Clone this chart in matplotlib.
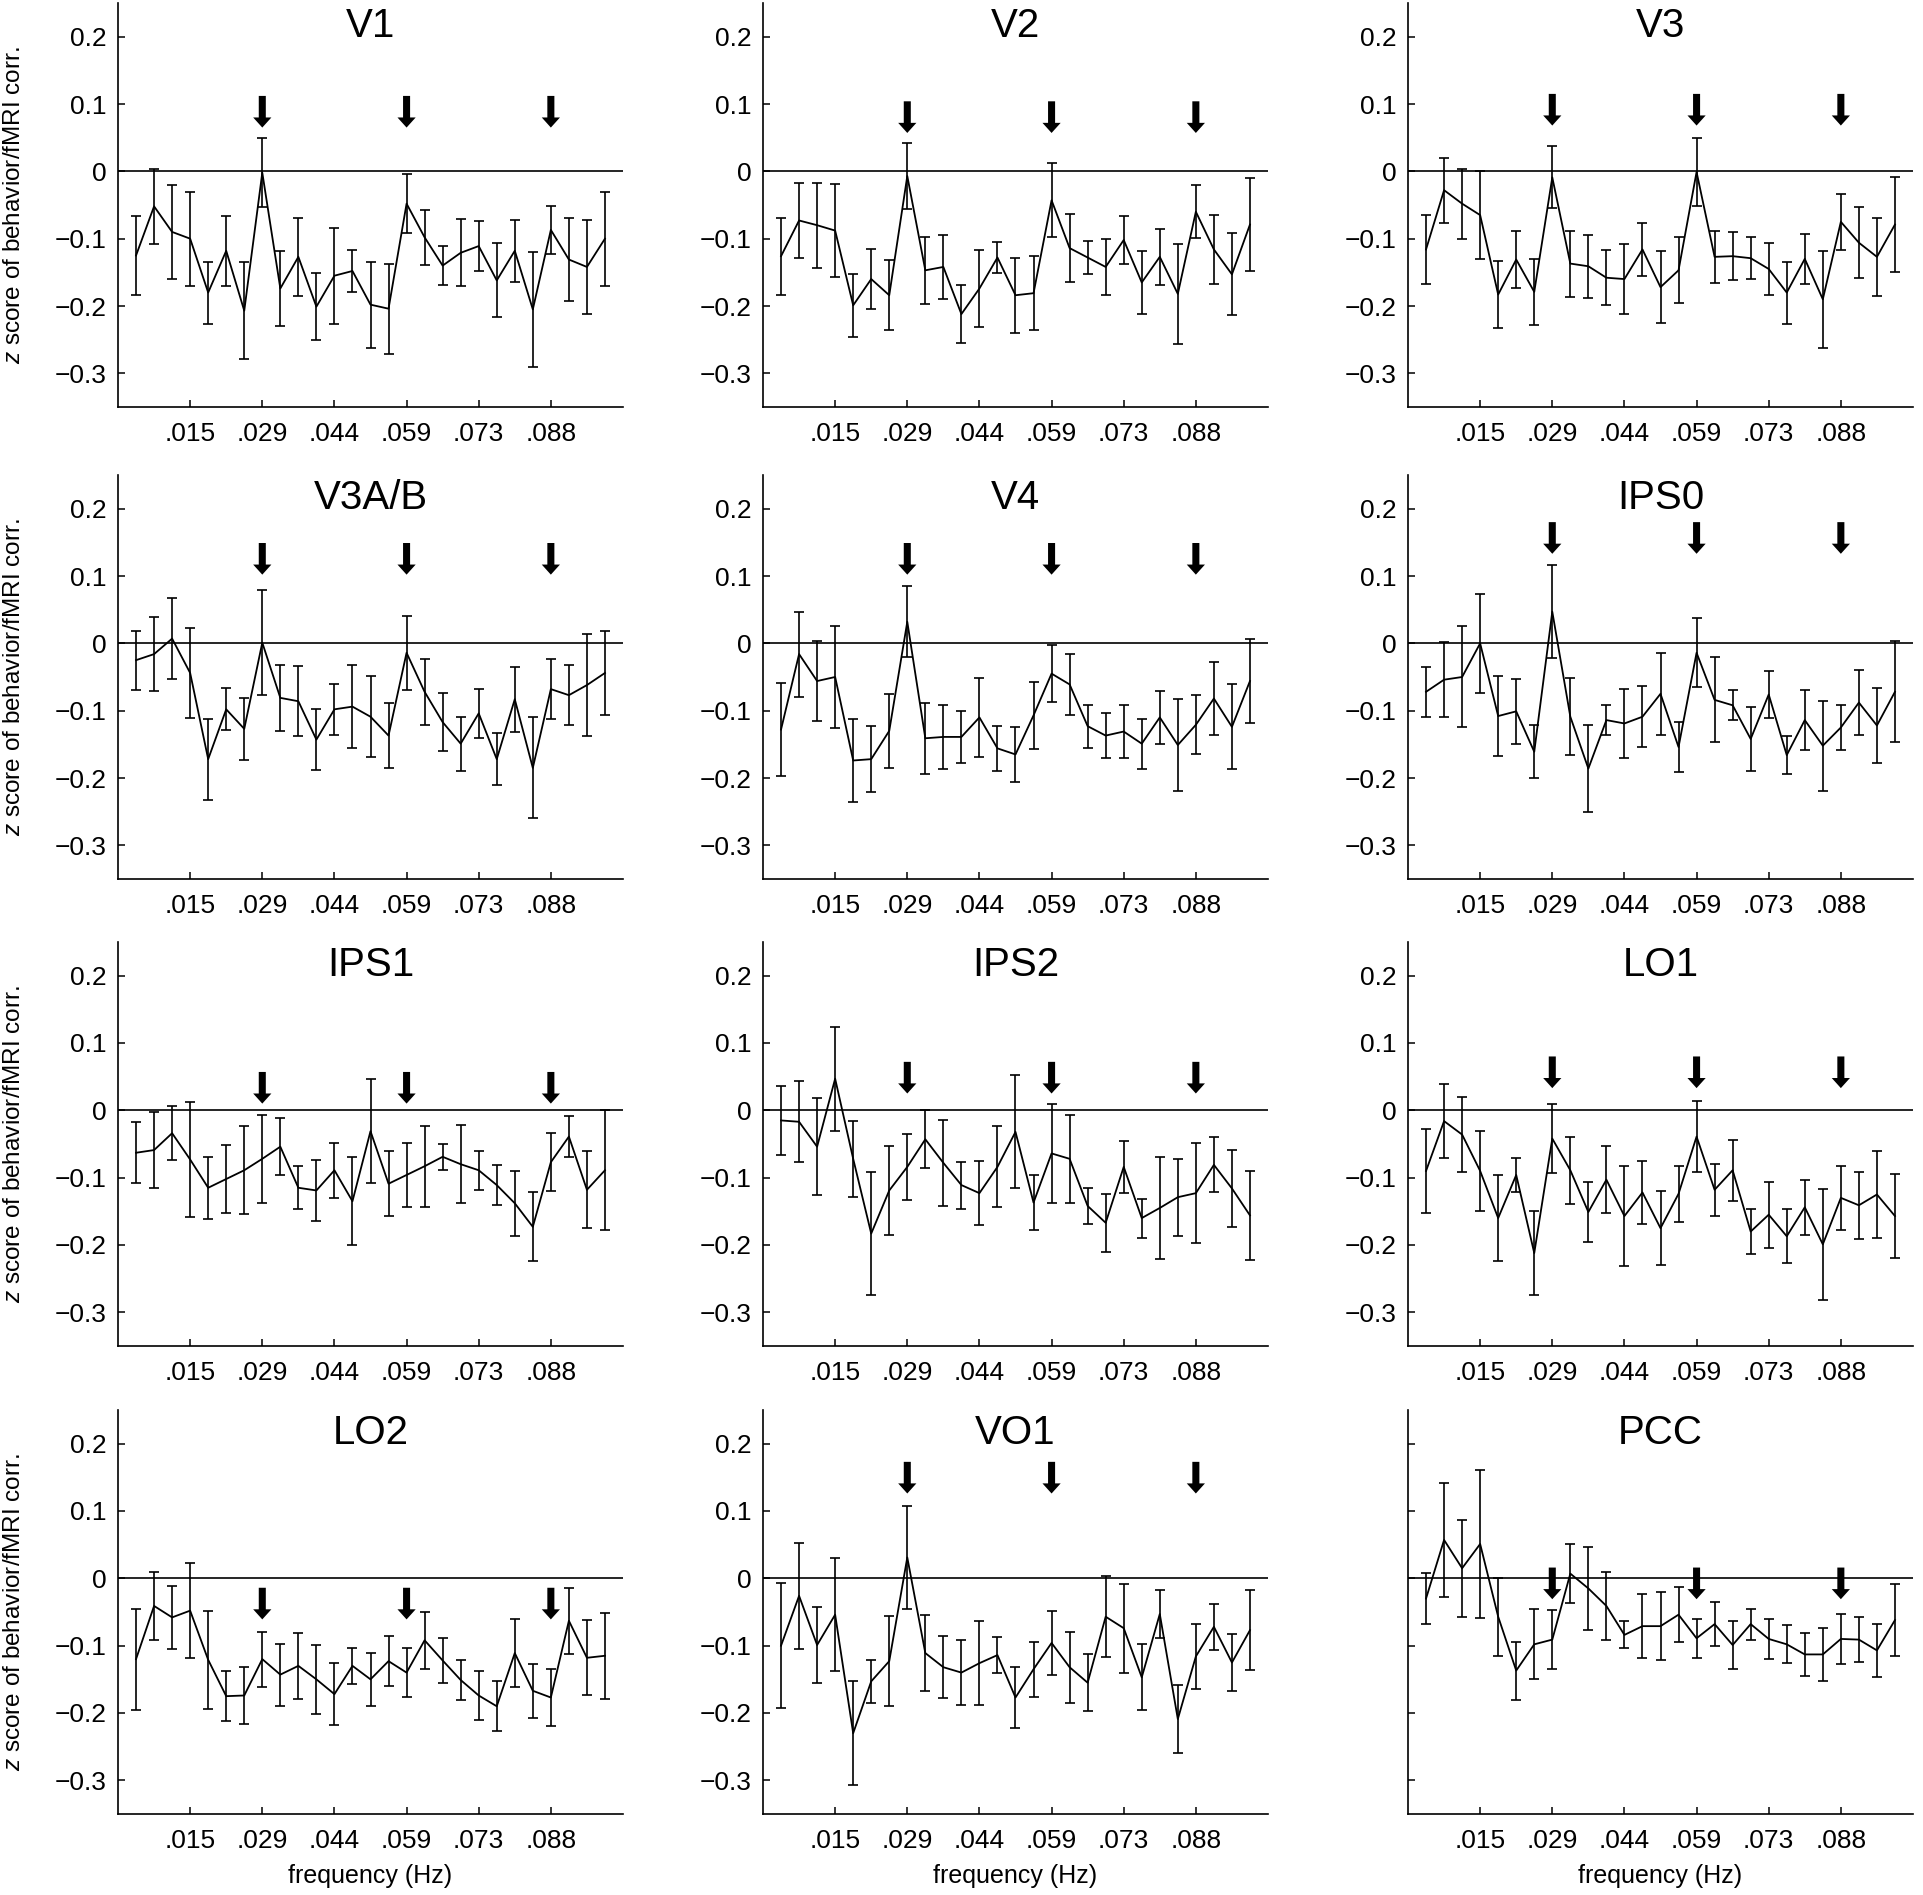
import matplotlib
matplotlib.use("Agg")
import matplotlib.pyplot as plt
import numpy as np

plt.rcParams['font.family'] = ['Liberation Sans', 'DejaVu Sans']
plt.rcParams['mathtext.fontset'] = 'custom'
plt.rcParams['mathtext.it'] = 'Liberation Sans:italic'
plt.rcParams['mathtext.rm'] = 'Liberation Sans'

# frequency bins (Hz): 27 bins of 1/273 Hz
freq_bins = np.arange(1, 28) / 273.0
xtick_bins = np.array([4, 8, 12, 16, 20, 24]) / 273.0
xtick_labels = ['.015', '.029', '.044', '.059', '.073', '.088']
arrow_freqs = np.array([8, 16, 24]) / 273.0
ytick_vals = [-0.3, -0.2, -0.1, 0, 0.1, 0.2]
ytick_labels = ['\u22120.3', '\u22120.2', '\u22120.1', '0', '0.1', '0.2']

regions = ['V1', 'V2', 'V3', 'V3A/B', 'V4', 'IPS0',
           'IPS1', 'IPS2', 'LO1', 'LO2', 'VO1', 'PCC']

v1_mean = [-0.125, -0.052, -0.090, -0.100, -0.180, -0.118, -0.207, -0.002, -0.174,
           -0.127, -0.201, -0.155, -0.148, -0.198, -0.204, -0.048, -0.098, -0.140,
           -0.121, -0.111, -0.162, -0.118, -0.205, -0.087, -0.131, -0.142, -0.100]
v1_err = [0.058, 0.056, 0.070, 0.070, 0.046, 0.052, 0.072, 0.051, 0.055,
          0.058, 0.050, 0.071, 0.031, 0.064, 0.067, 0.044, 0.041, 0.029,
          0.050, 0.037, 0.055, 0.046, 0.085, 0.036, 0.062, 0.070, 0.070]

v2_mean = [-0.126, -0.073, -0.080, -0.088, -0.199, -0.160, -0.184, -0.007, -0.147,
           -0.142, -0.212, -0.174, -0.128, -0.184, -0.181, -0.043, -0.114, -0.128,
           -0.142, -0.102, -0.165, -0.127, -0.182, -0.060, -0.116, -0.153, -0.079]
v2_err = [0.057, 0.056, 0.063, 0.069, 0.047, 0.045, 0.052, 0.049, 0.050,
          0.047, 0.043, 0.057, 0.023, 0.056, 0.055, 0.055, 0.050, 0.025,
          0.042, 0.035, 0.047, 0.042, 0.074, 0.039, 0.051, 0.061, 0.069]

v3_mean = [-0.116, -0.028, -0.048, -0.065, -0.183, -0.131, -0.179, -0.009, -0.137,
           -0.141, -0.158, -0.160, -0.116, -0.172, -0.147, -0.001, -0.127, -0.126,
           -0.129, -0.145, -0.180, -0.130, -0.190, -0.075, -0.106, -0.127, -0.079]
v3_err = [0.051, 0.048, 0.052, 0.065, 0.050, 0.042, 0.049, 0.046, 0.049,
          0.047, 0.041, 0.052, 0.039, 0.053, 0.049, 0.051, 0.039, 0.036,
          0.031, 0.038, 0.046, 0.037, 0.072, 0.042, 0.053, 0.058, 0.070]

v3ab_mean = [-0.025, -0.016, 0.007, -0.044, -0.172, -0.098, -0.127, 0.001, -0.081,
             -0.086, -0.143, -0.098, -0.094, -0.109, -0.137, -0.014, -0.072, -0.117,
             -0.149, -0.104, -0.172, -0.083, -0.185, -0.068, -0.077, -0.062, -0.044]
v3ab_err = [0.044, 0.055, 0.060, 0.067, 0.060, 0.031, 0.046, 0.078, 0.049,
            0.052, 0.045, 0.038, 0.062, 0.060, 0.048, 0.055, 0.049, 0.043,
            0.040, 0.036, 0.039, 0.048, 0.075, 0.045, 0.045, 0.076, 0.062]

v4_mean = [-0.128, -0.016, -0.056, -0.050, -0.174, -0.172, -0.130, 0.032, -0.141,
           -0.139, -0.139, -0.110, -0.156, -0.165, -0.107, -0.045, -0.061, -0.123,
           -0.137, -0.131, -0.149, -0.110, -0.151, -0.121, -0.082, -0.124, -0.056]
v4_err = [0.069, 0.063, 0.060, 0.076, 0.061, 0.049, 0.055, 0.053, 0.053,
          0.047, 0.039, 0.059, 0.033, 0.041, 0.050, 0.042, 0.045, 0.032,
          0.033, 0.040, 0.037, 0.039, 0.069, 0.044, 0.054, 0.063, 0.063]

ips0_mean = [-0.072, -0.054, -0.050, 0.000, -0.108, -0.101, -0.161, 0.047, -0.109,
             -0.186, -0.114, -0.119, -0.109, -0.075, -0.154, -0.014, -0.084, -0.092,
             -0.142, -0.076, -0.166, -0.114, -0.152, -0.125, -0.088, -0.122, -0.072]
ips0_err = [0.037, 0.056, 0.075, 0.074, 0.059, 0.048, 0.039, 0.069, 0.057,
            0.065, 0.022, 0.051, 0.045, 0.061, 0.037, 0.051, 0.063, 0.022,
            0.048, 0.035, 0.028, 0.045, 0.067, 0.033, 0.048, 0.056, 0.075]

ips1_mean = [-0.063, -0.059, -0.034, -0.073, -0.115, -0.102, -0.089, -0.072, -0.054,
             -0.115, -0.119, -0.089, -0.135, -0.031, -0.109, -0.096, -0.083, -0.069,
             -0.080, -0.089, -0.111, -0.138, -0.173, -0.077, -0.039, -0.118, -0.089]
ips1_err = [0.045, 0.057, 0.040, 0.086, 0.046, 0.050, 0.065, 0.065, 0.042,
            0.032, 0.045, 0.041, 0.065, 0.077, 0.048, 0.047, 0.060, 0.019,
            0.058, 0.029, 0.030, 0.048, 0.051, 0.043, 0.031, 0.057, 0.089]

ips2_mean = [-0.015, -0.017, -0.054, 0.047, -0.072, -0.183, -0.119, -0.084, -0.043,
             -0.078, -0.111, -0.123, -0.084, -0.032, -0.137, -0.064, -0.072, -0.142,
             -0.167, -0.084, -0.160, -0.145, -0.129, -0.123, -0.081, -0.116, -0.156]
ips2_err = [0.051, 0.060, 0.072, 0.077, 0.056, 0.091, 0.066, 0.049, 0.043,
            0.064, 0.035, 0.048, 0.060, 0.084, 0.041, 0.073, 0.065, 0.027,
            0.043, 0.039, 0.029, 0.076, 0.057, 0.074, 0.041, 0.057, 0.066]

lo1_mean = [-0.090, -0.016, -0.036, -0.090, -0.160, -0.096, -0.212, -0.042, -0.089,
            -0.151, -0.103, -0.157, -0.122, -0.175, -0.124, -0.039, -0.118, -0.089,
            -0.180, -0.155, -0.187, -0.144, -0.199, -0.130, -0.141, -0.125, -0.157]
lo1_err = [0.063, 0.055, 0.056, 0.059, 0.064, 0.025, 0.062, 0.051, 0.050,
           0.044, 0.050, 0.074, 0.047, 0.055, 0.042, 0.053, 0.039, 0.045,
           0.033, 0.049, 0.040, 0.041, 0.082, 0.047, 0.050, 0.065, 0.062]

lo2_mean = [-0.120, -0.041, -0.058, -0.048, -0.121, -0.175, -0.174, -0.120, -0.143,
            -0.130, -0.150, -0.172, -0.130, -0.150, -0.123, -0.140, -0.092, -0.122,
            -0.151, -0.174, -0.190, -0.111, -0.167, -0.177, -0.063, -0.118, -0.115]
lo2_err = [0.075, 0.050, 0.047, 0.071, 0.073, 0.037, 0.042, 0.041, 0.046,
           0.049, 0.051, 0.046, 0.027, 0.039, 0.037, 0.036, 0.042, 0.034,
           0.029, 0.037, 0.037, 0.051, 0.040, 0.043, 0.049, 0.056, 0.064]

vo1_mean = [-0.100, -0.026, -0.099, -0.054, -0.230, -0.153, -0.123, 0.031, -0.111,
            -0.132, -0.140, -0.126, -0.114, -0.177, -0.135, -0.096, -0.132, -0.155,
            -0.057, -0.074, -0.147, -0.053, -0.209, -0.116, -0.072, -0.125, -0.077]
vo1_err = [0.093, 0.079, 0.056, 0.084, 0.077, 0.032, 0.067, 0.076, 0.056,
           0.046, 0.048, 0.062, 0.027, 0.046, 0.041, 0.048, 0.053, 0.042,
           0.060, 0.066, 0.049, 0.036, 0.051, 0.048, 0.034, 0.043, 0.059]

pcc_mean = [-0.030, 0.057, 0.015, 0.051, -0.057, -0.137, -0.098, -0.091, 0.007,
            -0.015, -0.041, -0.084, -0.071, -0.071, -0.054, -0.089, -0.068, -0.099,
            -0.068, -0.090, -0.098, -0.113, -0.113, -0.090, -0.091, -0.107, -0.062]
pcc_err = [0.038, 0.085, 0.072, 0.110, 0.058, 0.043, 0.052, 0.044, 0.044,
           0.061, 0.051, 0.020, 0.048, 0.050, 0.041, 0.029, 0.033, 0.035,
           0.023, 0.030, 0.028, 0.032, 0.039, 0.037, 0.033, 0.039, 0.053]

means = [v1_mean, v2_mean, v3_mean, v3ab_mean, v4_mean, ips0_mean,
         ips1_mean, ips2_mean, lo1_mean, lo2_mean, vo1_mean, pcc_mean]
errs = [v1_err, v2_err, v3_err, v3ab_err, v4_err, ips0_err,
        ips1_err, ips2_err, lo1_err, lo2_err, vo1_err, pcc_err]

# y of the arrow tips in each panel
arrow_tips = [0.065, 0.057, 0.068, 0.102, 0.102, 0.133,
              0.010, 0.025, 0.033, -0.061, 0.126, -0.031]

W, H = 1924, 1895
fig = plt.figure(figsize=(W / 100, H / 100), dpi=100)

col_left = [118, 763, 1408]
row_top = [3, 475, 942, 1410]
ax_w, ax_h = 505, 404

for i, name in enumerate(regions):
    r, c = divmod(i, 3)
    ax = fig.add_axes([col_left[c] / W, 1 - (row_top[r] + ax_h) / H, ax_w / W, ax_h / H])

    ax.axhline(0, color='black', lw=1.2, zorder=1)
    ax.errorbar(freq_bins, means[i], yerr=errs[i], color='black', lw=1.3,
                elinewidth=1.2, capsize=3.5, capthick=1.2, zorder=3)

    for fx in arrow_freqs:
        ax.arrow(fx, arrow_tips[i] + 0.047, 0, -0.047, width=0.00143,
                 head_width=0.0037, head_length=0.015, length_includes_head=True,
                 fc='black', ec='none', zorder=4)

    ax.set_xlim(0, 28 / 273.0)
    ax.set_ylim(-0.35, 0.25)
    ax.set_xticks(xtick_bins)
    ax.set_xticklabels(xtick_labels)
    ax.set_yticks(ytick_vals)
    ax.set_yticklabels(ytick_labels)
    ax.tick_params(direction='in', length=5, width=1.1, labelsize=19)
    ax.tick_params(axis='x', pad=11)
    ax.tick_params(axis='y', pad=8)
    ax.spines['top'].set_visible(False)
    ax.spines['right'].set_visible(False)
    for s in ['left', 'bottom']:
        ax.spines[s].set_linewidth(1.2)

    ax.text(0.5, 0.917, name, transform=ax.transAxes, ha='center',
            va='baseline', fontsize=29)

    if c == 2 and r == 3:
        ax.tick_params(labelleft=False)
    if c == 0:
        ax.set_ylabel('$z$ score of behavior/fMRI corr.', fontsize=17.5)
        ax.yaxis.set_label_coords(-0.185, 0.5)
    if r == 3:
        ax.set_xlabel('frequency (Hz)', fontsize=18, labelpad=8)

fig.savefig('out.png', dpi=100)
